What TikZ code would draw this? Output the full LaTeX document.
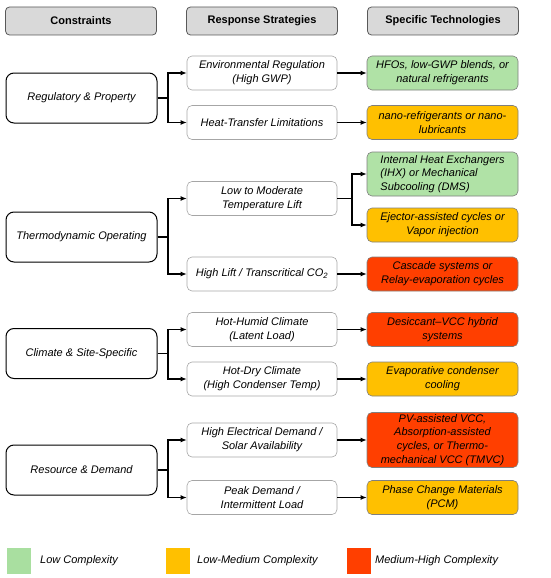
\documentclass[tikz,border=0pt]{standalone}
\usepackage{fontspec}
\setmainfont{Liberation Sans}
\usetikzlibrary{arrows.meta}
\definecolor{lowc}{HTML}{B0E2A6}
\definecolor{lowleg}{HTML}{A9DFA0}
\definecolor{midc}{HTML}{FFC000}
\definecolor{highc}{HTML}{FF3F00}
\definecolor{hdrfill}{HTML}{D9D9D9}
\definecolor{hdrline}{HTML}{595959}
\definecolor{respline}{HTML}{A6A6A6}
\definecolor{techline}{HTML}{7F7F7F}
\begin{document}
\begin{tikzpicture}[x=1pt,y=-1pt,
  txt/.style={font=\itshape\fontsize{11}{13.8}\selectfont, align=center, inner sep=1pt},
  hdr/.style={draw=hdrline, fill=hdrfill, line width=0.8pt, rounded corners=4pt,
    minimum width=151pt, minimum height=28pt, font=\bfseries\fontsize{11}{13}\selectfont},
  cons/.style={txt, draw=black, line width=1pt, rounded corners=8pt, minimum width=151pt, minimum height=50pt},
  resp/.style={txt, draw=respline, line width=0.6pt, rounded corners=5pt, minimum width=150pt, minimum height=34pt},
  tech/.style={txt, draw=techline, line width=0.6pt, rounded corners=5pt, minimum width=151pt, minimum height=34pt},
  conn/.style={draw=black, line width=1.1pt, -{Latex[length=6pt,width=5pt]}},
  legbox/.style={minimum width=24pt, minimum height=26pt, inner sep=0pt},
  leglab/.style={txt, anchor=west}
]
\useasboundingbox (0,0) rectangle (550,578);

% headers
\node[hdr] (h1) at (81,21) {Constraints};
\node[hdr] (h2) at (262,21) {Response Strategies};
\node[hdr] (h3) at (443,21) {Specific Technologies};

% group 1
\node[cons] (reg) at (81.5,98) {Regulatory \& Property};
\node[resp] (env) at (262,73) {Environmental Regulation\\(High GWP)};
\node[resp] (heat) at (262,122.5) {Heat-Transfer Limitations};
\node[tech, fill=lowc] (hfo) at (442.5,73) {HFOs, low-GWP blends, or\\natural refrigerants};
\node[tech, fill=midc] (nano) at (442.5,122.5) {nano-refrigerants or nano-\\lubricants};
\coordinate (b1) at (168,98);
\draw[conn] (reg.east) -- (b1) |- (env.west);
\draw[conn] (b1) |- (heat.west);
\draw[conn] (env.east) -- (hfo.west);
\draw[conn] (heat.east) -- (nano.west);

% group 2
\node[cons] (thermo) at (81.5,237) {Thermodynamic Operating};
\node[resp] (lowl) at (262,198.5) {Low to Moderate\\Temperature Lift};
\node[resp] (highl) at (262,274) {High Lift / Transcritical CO\textsubscript{2}};
\node[tech, fill=lowc, minimum height=44pt, align=left] (ihx) at (442.5,174) {Internal Heat Exchangers\\(IHX) or Mechanical\\Subcooling (DMS)};
\node[tech, fill=midc] (ejec) at (442.5,225) {Ejector-assisted cycles or\\Vapor injection};
\node[tech, fill=highc] (casc) at (442.5,274) {Cascade systems or\\Relay-evaporation cycles};
\coordinate (b2) at (168,237);
\draw[conn] (thermo.east) -- (b2) |- (lowl.west);
\draw[conn] (b2) |- (highl.west);
\coordinate (b3) at (352,198.5);
\draw[conn] (lowl.east) -- (b3) |- (ihx.west);
\draw[conn] (b3) |- (ejec.west);
\draw[conn] (highl.east) -- (casc.west);

% group 3
\node[cons] (clim) at (81.5,353.5) {Climate \& Site-Specific};
\node[resp] (humid) at (262,329.5) {Hot-Humid Climate\\(Latent Load)};
\node[resp] (dry) at (262,379) {Hot-Dry Climate\\(High Condenser Temp)};
\node[tech, fill=highc] (desi) at (442.5,329.5) {Desiccant--VCC hybrid\\systems};
\node[tech, fill=midc] (evap) at (442.5,379) {Evaporative condenser\\cooling};
\coordinate (b4) at (168,353.5);
\draw[conn] (clim.east) -- (b4) |- (humid.west);
\draw[conn] (b4) |- (dry.west);
\draw[conn] (humid.east) -- (desi.west);
\draw[conn] (dry.east) -- (evap.west);

% group 4
\node[cons] (res) at (81.5,470) {Resource \& Demand};
\node[resp] (elec) at (262,440) {High Electrical Demand /\\Solar Availability};
\node[resp] (peak) at (262,497.5) {Peak Demand /\\Intermittent Load};
\node[tech, fill=highc, minimum height=55pt] (pv) at (442.5,440) {PV-assisted VCC,\\Absorption-assisted\\cycles, or Thermo-\\mechanical VCC (TMVC)};
\node[tech, fill=midc] (pcm) at (442.5,497.5) {Phase Change Materials\\(PCM)};
\coordinate (b5) at (168,470);
\draw[conn] (res.east) -- (b5) |- (elec.west);
\draw[conn] (b5) |- (peak.west);
\draw[conn] (elec.east) -- (pv.west);
\draw[conn] (peak.east) -- (pcm.west);

% legend
\node[legbox, fill=lowleg] (l1) at (19,561) {};
\node[leglab] (t1) at (39,561) {Low Complexity};
\node[legbox, fill=midc] (l2) at (178,561) {};
\node[leglab] (t2) at (196,561) {Low-Medium Complexity};
\node[legbox, fill=highc] (l3) at (359,561) {};
\node[leglab] (t3) at (374,561) {Medium-High Complexity};
\end{tikzpicture}
\end{document}
